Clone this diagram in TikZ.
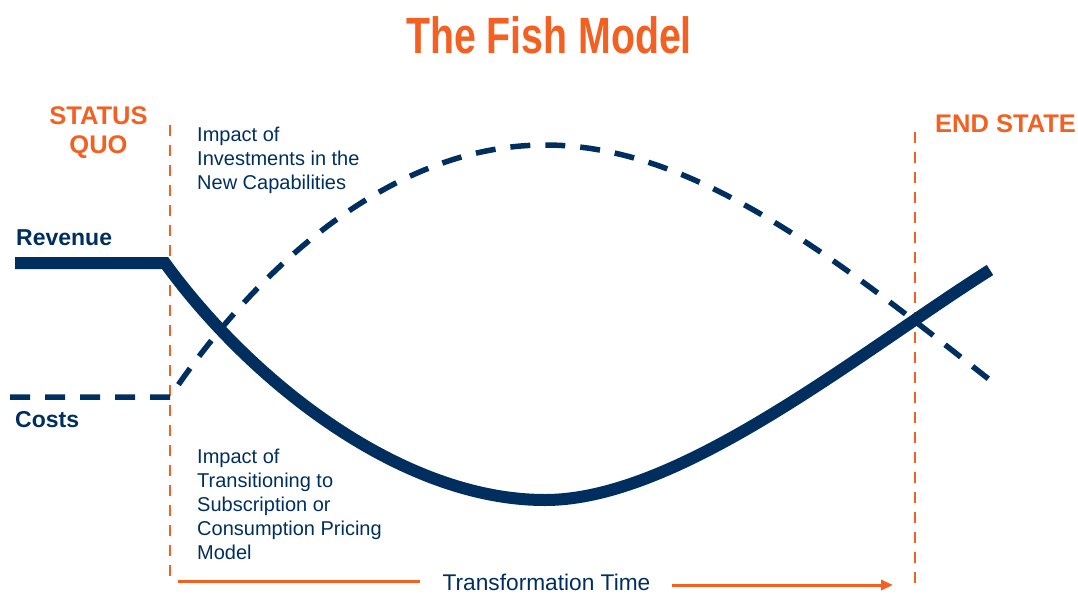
\documentclass[tikz,border=0pt]{standalone}
\usepackage{fontspec}
\setmainfont{Liberation Sans}
\newfontfamily\titlefont[FakeStretch=0.77]{Liberation Sans}
\usetikzlibrary{arrows.meta,calc}
\definecolor{fishorange}{HTML}{F26122}
\definecolor{fishnavy}{HTML}{002F5F}
\begin{document}
\begin{tikzpicture}[x=1pt,y=-1pt,
  note/.style={inner sep=0pt, text=fishnavy, align=left,
    font=\fontsize{20}{24}\selectfont},
  phase/.style={inner sep=0pt, text=fishorange, align=center,
    font=\bfseries\fontsize{25.5}{29}\selectfont},
  series/.style={inner sep=0pt, text=fishnavy,
    font=\bfseries\fontsize{23}{27}\selectfont},
  phaseline/.style={draw=fishorange, line width=2.8pt, dash pattern=on 11pt off 9pt},
  revenue/.style={draw=fishnavy, line width=12pt, line join=miter},
  costs/.style={draw=fishnavy, line width=5.5pt, dash pattern=on 20pt off 15pt},
  timeline/.style={draw=fishorange, line width=3pt}]
\useasboundingbox (0,0) rectangle (1078,594);

% title
\node[inner sep=0pt, anchor=base, text=fishorange,
  font=\titlefont\bfseries\fontsize{51}{60}\selectfont] (title) at (549,53) {The Fish Model};

% phase labels
\node[phase, anchor=north] (statusquo) at (98.5,106) {STATUS\\QUO};
\node[phase, anchor=base west] (endstate) at (935,132) {END STATE};

% series labels
\node[series, anchor=base west] (revlabel) at (16,245) {Revenue};
\node[series, anchor=base west] (costlabel) at (15,427) {Costs};

% annotations
\node[note, anchor=north west] (invest) at (197,127)
  {Impact of\\Investments in the\\New Capabilities};
\node[note, anchor=north west] (pricing) at (197,448.5)
  {Impact of\\Transitioning to\\Subscription or\\Consumption Pricing\\Model};

% phase boundaries
\coordinate (sqtop) at (170,125);
\coordinate (sqbot) at (170,582);
\coordinate (estop) at (915,132);
\coordinate (esbot) at (915,590);
\draw[phaseline] (sqtop) -- (sqbot);
\draw[phaseline] (estop) -- (esbot);

% revenue curve
\coordinate (r0) at (15,263);
\coordinate (r1) at (165,263);
\coordinate (rmin) at (545,500);
\coordinate (r2) at (990,270);
\draw[revenue] (r0) -- (r1) .. controls (250,380) and (400,500) .. (rmin)
  .. controls (680,500) and (860,352) .. (r2);

% cost curve
\coordinate (c0) at (10,397);
\coordinate (c1) at (170,397);
\coordinate (cmax) at (545,145);
\coordinate (c2) at (1000,388);
\draw[costs] (c0) -- (c1) .. controls (255,270) and (390,145) .. (cmax)
  .. controls (700,145) and (850,270) .. (c2);

% transformation time axis
\node[inner sep=0pt, anchor=base, text=fishnavy, font=\fontsize{22.7}{27}\selectfont]
  (ttime) at (546.5,590) {Transformation Time};
\coordinate (tstart) at (178,581);
\coordinate (tleft) at (420,581);
\coordinate (tright) at (672,585);
\coordinate (tend) at (893,585);
\draw[timeline] (tstart) -- (tleft);
\draw[timeline, -{Triangle[length=12pt,width=10pt]}] (tright) -- (tend);
\end{tikzpicture}
\end{document}
